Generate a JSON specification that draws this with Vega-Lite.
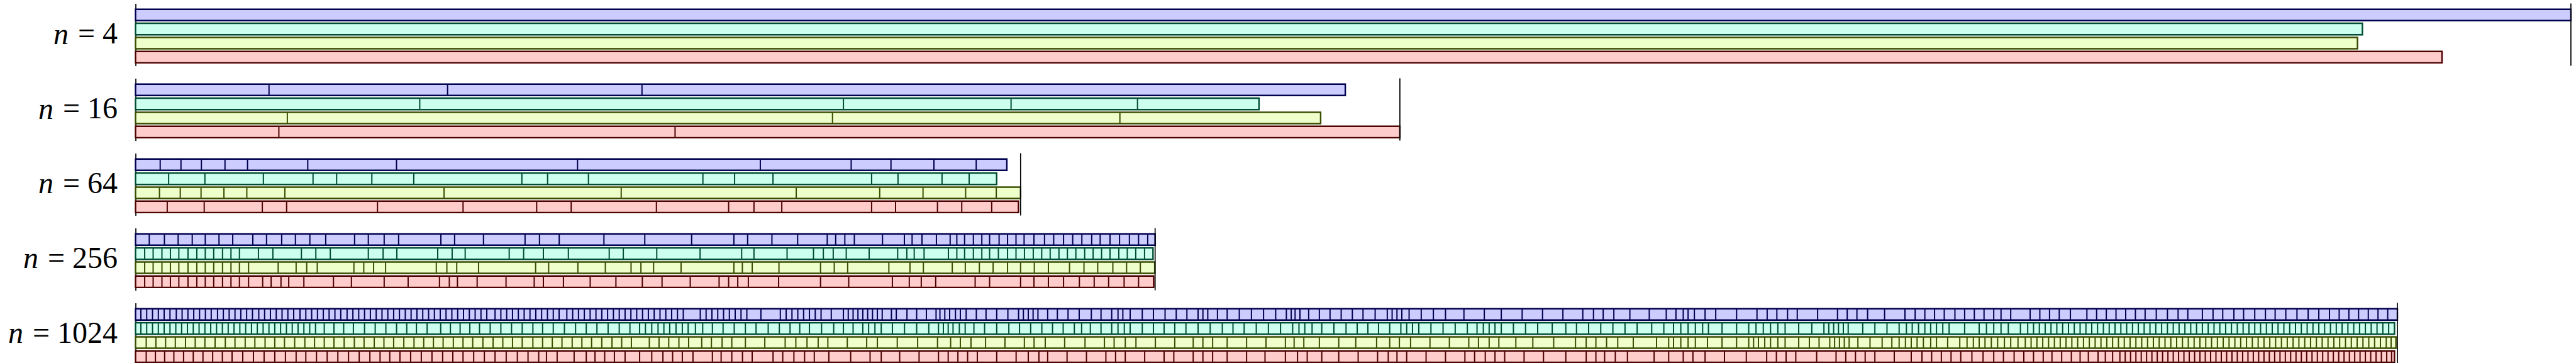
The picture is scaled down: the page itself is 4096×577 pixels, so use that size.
{
"$schema": "https://vega.github.io/schema/vega-lite/v6.json",
"background": "white",
"padding": {"left": 11.5, "top": 4.5, "right": 0, "bottom": 0},
"spacing": 18,
"resolve": {"scale": {"x": "independent", "y": "independent"}},
"config": {
 "view": {"stroke": null},
 "axisY": {"titleFont": "Liberation Serif", "titleFontStyle": "italic", "titleFontWeight": "normal", "titleFontSize": 48, "titleColor": "black", "titleAngle": 0, "titleAlign": "right", "titleBaseline": "middle", "titlePadding": 15,
  "labelFont": "Liberation Serif", "labelFontSize": 48, "labelColor": "black", "labelPadding": 29, "labelOffset": 8.6, "labelAlign": "right", "labelBaseline": "middle", "labelOverlap": false, "labelLimit": 400, "labelBound": false,
  "ticks": false, "tickSize": 0, "domain": true, "domainColor": "black", "domainWidth": 1.7, "grid": false}
},
"datasets": {
 "bars": [
  {"n":4,"s":"s1","end":6915},{"n":4,"s":"s2","end":6323},{"n":4,"s":"s3","end":6309},{"n":4,"s":"s4","end":6549},
  {"n":16,"s":"s1","end":3435},{"n":16,"s":"s2","end":3190},{"n":16,"s":"s3","end":3365},{"n":16,"s":"s4","end":3590},
  {"n":64,"s":"s1","end":2474},{"n":64,"s":"s2","end":2445},{"n":64,"s":"s3","end":2513},{"n":64,"s":"s4","end":2507},
  {"n":256,"s":"s1","end":2895},{"n":256,"s":"s2","end":2889},{"n":256,"s":"s3","end":2894},{"n":256,"s":"s4","end":2891}
 ],
 "bars1024": [
  {"n":1024,"s":"s1","end":4662},{"n":1024,"s":"s2","end":4656},{"n":1024,"s":"s3","end":4659},{"n":1024,"s":"s4","end":4656}
 ],
 "div16": [
  {"s":"s1","t":379},{"s":"s1","t":886},{"s":"s1","t":1438},
  {"s":"s2","t":807},{"s":"s2","t":2010},{"s":"s2","t":2486},{"s":"s2","t":2845},
  {"s":"s3","t":431},{"s":"s3","t":1979},{"s":"s3","t":2795},
  {"s":"s4","t":407},{"s":"s4","t":1532}
 ],
 "div64": [
  {"s":"s1","t":70},{"s":"s1","t":129},{"s":"s1","t":187},{"s":"s1","t":254},{"s":"s1","t":318},{"s":"s1","t":489},{"s":"s1","t":741},{"s":"s1","t":1255},{"s":"s1","t":1774},{"s":"s1","t":2032},{"s":"s1","t":2145},{"s":"s1","t":2267},{"s":"s1","t":2387},
  {"s":"s2","t":94},{"s":"s2","t":197},{"s":"s2","t":363},{"s":"s2","t":504},{"s":"s2","t":571},{"s":"s2","t":671},{"s":"s2","t":790},{"s":"s2","t":1097},{"s":"s2","t":1170},{"s":"s2","t":1286},{"s":"s2","t":1611},{"s":"s2","t":1701},{"s":"s2","t":1810},{"s":"s2","t":2090},{"s":"s2","t":2165},{"s":"s2","t":2290},{"s":"s2","t":2367},
  {"s":"s3","t":68},{"s":"s3","t":127},{"s":"s3","t":186},{"s":"s3","t":251},{"s":"s3","t":316},{"s":"s3","t":424},{"s":"s3","t":876},{"s":"s3","t":1379},{"s":"s3","t":1876},{"s":"s3","t":2113},{"s":"s3","t":2236},{"s":"s3","t":2357},{"s":"s3","t":2444},
  {"s":"s4","t":90},{"s":"s4","t":195},{"s":"s4","t":360},{"s":"s4","t":429},{"s":"s4","t":687},{"s":"s4","t":930},{"s":"s4","t":1139},{"s":"s4","t":1237},{"s":"s4","t":1479},{"s":"s4","t":1684},{"s":"s4","t":1756},{"s":"s4","t":1835},{"s":"s4","t":2090},{"s":"s4","t":2158},{"s":"s4","t":2277},{"s":"s4","t":2346},{"s":"s4","t":2431}
 ],
 "div256": [
  {"s":"s1","t":39},{"s":"s1","t":82},{"s":"s1","t":121},{"s":"s1","t":161},{"s":"s1","t":198},{"s":"s1","t":237},{"s":"s1","t":276},{"s":"s1","t":333},{"s":"s1","t":372},{"s":"s1","t":415},{"s":"s1","t":454},{"s":"s1","t":495},{"s":"s1","t":540},{"s":"s1","t":622},{"s":"s1","t":661},{"s":"s1","t":706},{"s":"s1","t":747},{"s":"s1","t":867},{"s":"s1","t":906},{"s":"s1","t":988},{"s":"s1","t":1106},{"s":"s1","t":1147},{"s":"s1","t":1203},{"s":"s1","t":1330},{"s":"s1","t":1446},{"s":"s1","t":1579},{"s":"s1","t":1699},{"s":"s1","t":1738},{"s":"s1","t":1807},{"s":"s1","t":1880},{"s":"s1","t":1964},{"s":"s1","t":1988},{"s":"s1","t":2014},{"s":"s1","t":2041},{"s":"s1","t":2121},{"s":"s1","t":2183},{"s":"s1","t":2205},{"s":"s1","t":2233},{"s":"s1","t":2274},{"s":"s1","t":2313},{"s":"s1","t":2332},{"s":"s1","t":2354},{"s":"s1","t":2379},{"s":"s1","t":2403},{"s":"s1","t":2425},{"s":"s1","t":2452},{"s":"s1","t":2476},{"s":"s1","t":2500},{"s":"s1","t":2523},{"s":"s1","t":2551},{"s":"s1","t":2581},{"s":"s1","t":2607},{"s":"s1","t":2635},{"s":"s1","t":2661},{"s":"s1","t":2687},{"s":"s1","t":2715},{"s":"s1","t":2739},{"s":"s1","t":2767},{"s":"s1","t":2794},{"s":"s1","t":2822},{"s":"s1","t":2848},{"s":"s1","t":2874},
  {"s":"s2","t":26},{"s":"s2","t":50},{"s":"s2","t":75},{"s":"s2","t":99},{"s":"s2","t":123},{"s":"s2","t":149},{"s":"s2","t":174},{"s":"s2","t":198},{"s":"s2","t":222},{"s":"s2","t":247},{"s":"s2","t":271},{"s":"s2","t":295},{"s":"s2","t":349},{"s":"s2","t":390},{"s":"s2","t":471},{"s":"s2","t":512},{"s":"s2","t":553},{"s":"s2","t":661},{"s":"s2","t":703},{"s":"s2","t":742},{"s":"s2","t":858},{"s":"s2","t":899},{"s":"s2","t":936},{"s":"s2","t":1061},{"s":"s2","t":1102},{"s":"s2","t":1158},{"s":"s2","t":1229},{"s":"s2","t":1345},{"s":"s2","t":1385},{"s":"s2","t":1480},{"s":"s2","t":1603},{"s":"s2","t":1721},{"s":"s2","t":1756},{"s":"s2","t":1850},{"s":"s2","t":1925},{"s":"s2","t":1953},{"s":"s2","t":1981},{"s":"s2","t":2018},{"s":"s2","t":2083},{"s":"s2","t":2164},{"s":"s2","t":2190},{"s":"s2","t":2211},{"s":"s2","t":2239},{"s":"s2","t":2308},{"s":"s2","t":2332},{"s":"s2","t":2354},{"s":"s2","t":2379},{"s":"s2","t":2403},{"s":"s2","t":2425},{"s":"s2","t":2450},{"s":"s2","t":2476},{"s":"s2","t":2500},{"s":"s2","t":2524},{"s":"s2","t":2549},{"s":"s2","t":2573},{"s":"s2","t":2597},{"s":"s2","t":2622},{"s":"s2","t":2646},{"s":"s2","t":2670},{"s":"s2","t":2695},{"s":"s2","t":2719},{"s":"s2","t":2743},{"s":"s2","t":2767},{"s":"s2","t":2792},{"s":"s2","t":2816},{"s":"s2","t":2840},{"s":"s2","t":2865},
  {"s":"s3","t":26},{"s":"s3","t":50},{"s":"s3","t":75},{"s":"s3","t":99},{"s":"s3","t":123},{"s":"s3","t":149},{"s":"s3","t":174},{"s":"s3","t":198},{"s":"s3","t":222},{"s":"s3","t":247},{"s":"s3","t":271},{"s":"s3","t":295},{"s":"s3","t":321},{"s":"s3","t":405},{"s":"s3","t":456},{"s":"s3","t":486},{"s":"s3","t":516},{"s":"s3","t":620},{"s":"s3","t":648},{"s":"s3","t":676},{"s":"s3","t":710},{"s":"s3","t":854},{"s":"s3","t":884},{"s":"s3","t":912},{"s":"s3","t":974},{"s":"s3","t":1136},{"s":"s3","t":1173},{"s":"s3","t":1256},{"s":"s3","t":1334},{"s":"s3","t":1407},{"s":"s3","t":1435},{"s":"s3","t":1471},{"s":"s3","t":1549},{"s":"s3","t":1699},{"s":"s3","t":1723},{"s":"s3","t":1751},{"s":"s3","t":1827},{"s":"s3","t":1945},{"s":"s3","t":1984},{"s":"s3","t":2022},{"s":"s3","t":2139},{"s":"s3","t":2199},{"s":"s3","t":2237},{"s":"s3","t":2319},{"s":"s3","t":2356},{"s":"s3","t":2396},{"s":"s3","t":2435},{"s":"s3","t":2476},{"s":"s3","t":2513},{"s":"s3","t":2552},{"s":"s3","t":2592},{"s":"s3","t":2652},{"s":"s3","t":2693},{"s":"s3","t":2732},{"s":"s3","t":2775},{"s":"s3","t":2814},{"s":"s3","t":2853},
  {"s":"s4","t":26},{"s":"s4","t":50},{"s":"s4","t":75},{"s":"s4","t":99},{"s":"s4","t":123},{"s":"s4","t":149},{"s":"s4","t":174},{"s":"s4","t":198},{"s":"s4","t":222},{"s":"s4","t":247},{"s":"s4","t":271},{"s":"s4","t":295},{"s":"s4","t":321},{"s":"s4","t":361},{"s":"s4","t":385},{"s":"s4","t":413},{"s":"s4","t":435},{"s":"s4","t":478},{"s":"s4","t":562},{"s":"s4","t":613},{"s":"s4","t":706},{"s":"s4","t":774},{"s":"s4","t":863},{"s":"s4","t":891},{"s":"s4","t":914},{"s":"s4","t":970},{"s":"s4","t":1052},{"s":"s4","t":1132},{"s":"s4","t":1158},{"s":"s4","t":1215},{"s":"s4","t":1291},{"s":"s4","t":1364},{"s":"s4","t":1439},{"s":"s4","t":1495},{"s":"s4","t":1575},{"s":"s4","t":1657},{"s":"s4","t":1684},{"s":"s4","t":1710},{"s":"s4","t":1740},{"s":"s4","t":1826},{"s":"s4","t":1945},{"s":"s4","t":2025},{"s":"s4","t":2149},{"s":"s4","t":2197},{"s":"s4","t":2231},{"s":"s4","t":2272},{"s":"s4","t":2384},{"s":"s4","t":2425},{"s":"s4","t":2513},{"s":"s4","t":2551},{"s":"s4","t":2592},{"s":"s4","t":2635},{"s":"s4","t":2680},{"s":"s4","t":2722},{"s":"s4","t":2763},{"s":"s4","t":2807},{"s":"s4","t":2848}
 ],
 "div1024": [
  {"s":"s1","t":11},{"s":"s1","t":23},{"s":"s1","t":35},{"s":"s1","t":47},{"s":"s1","t":59},{"s":"s1","t":71},{"s":"s1","t":84},{"s":"s1","t":96},{"s":"s1","t":108},{"s":"s1","t":120},{"s":"s1","t":132},{"s":"s1","t":144},{"s":"s1","t":156},{"s":"s1","t":169},{"s":"s1","t":181},{"s":"s1","t":193},{"s":"s1","t":205},{"s":"s1","t":217},{"s":"s1","t":229},{"s":"s1","t":241},{"s":"s1","t":254},{"s":"s1","t":266},{"s":"s1","t":278},{"s":"s1","t":290},{"s":"s1","t":302},{"s":"s1","t":314},{"s":"s1","t":326},{"s":"s1","t":339},{"s":"s1","t":351},{"s":"s1","t":363},{"s":"s1","t":375},{"s":"s1","t":387},{"s":"s1","t":399},{"s":"s1","t":411},{"s":"s1","t":423},{"s":"s1","t":436},{"s":"s1","t":448},{"s":"s1","t":460},{"s":"s1","t":472},{"s":"s1","t":484},{"s":"s1","t":496},{"s":"s1","t":508},{"s":"s1","t":520},{"s":"s1","t":532},{"s":"s1","t":544},{"s":"s1","t":556},{"s":"s1","t":568},{"s":"s1","t":580},{"s":"s1","t":592},{"s":"s1","t":604},{"s":"s1","t":616},{"s":"s1","t":628},{"s":"s1","t":640},{"s":"s1","t":652},{"s":"s1","t":664},{"s":"s1","t":676},{"s":"s1","t":688},{"s":"s1","t":700},{"s":"s1","t":712},{"s":"s1","t":724},{"s":"s1","t":741},{"s":"s1","t":753},{"s":"s1","t":765},{"s":"s1","t":777},{"s":"s1","t":789},{"s":"s1","t":801},{"s":"s1","t":813},{"s":"s1","t":825},{"s":"s1","t":837},{"s":"s1","t":849},{"s":"s1","t":861},{"s":"s1","t":873},{"s":"s1","t":889},{"s":"s1","t":901},{"s":"s1","t":913},{"s":"s1","t":925},{"s":"s1","t":937},{"s":"s1","t":949},{"s":"s1","t":961},{"s":"s1","t":973},{"s":"s1","t":985},{"s":"s1","t":997},{"s":"s1","t":1009},{"s":"s1","t":1021},{"s":"s1","t":1033},{"s":"s1","t":1045},{"s":"s1","t":1057},{"s":"s1","t":1069},{"s":"s1","t":1081},{"s":"s1","t":1093},{"s":"s1","t":1105},{"s":"s1","t":1117},{"s":"s1","t":1129},{"s":"s1","t":1164},{"s":"s1","t":1176},{"s":"s1","t":1188},{"s":"s1","t":1200},{"s":"s1","t":1212},{"s":"s1","t":1224},{"s":"s1","t":1236},{"s":"s1","t":1248},{"s":"s1","t":1260},{"s":"s1","t":1289},{"s":"s1","t":1329},{"s":"s1","t":1341},{"s":"s1","t":1353},{"s":"s1","t":1365},{"s":"s1","t":1377},{"s":"s1","t":1389},{"s":"s1","t":1401},{"s":"s1","t":1413},{"s":"s1","t":1434},{"s":"s1","t":1459},{"s":"s1","t":1469},{"s":"s1","t":1479},{"s":"s1","t":1489},{"s":"s1","t":1499},{"s":"s1","t":1509},{"s":"s1","t":1519},{"s":"s1","t":1529},{"s":"s1","t":1539},
  {"s":"s1","t":1558},{"s":"s1","t":1568},{"s":"s1","t":1590},{"s":"s1","t":1610},{"s":"s1","t":1630},{"s":"s1","t":1650},{"s":"s1","t":1658},{"s":"s1","t":1668},{"s":"s1","t":1678},{"s":"s1","t":1690},{"s":"s1","t":1700},{"s":"s1","t":1712},{"s":"s1","t":1733},{"s":"s1","t":1753},{"s":"s1","t":1775},{"s":"s1","t":1798},{"s":"s1","t":1820},{"s":"s1","t":1830},{"s":"s1","t":1840},{"s":"s1","t":1850},{"s":"s1","t":1860},{"s":"s1","t":1880},{"s":"s1","t":1900},{"s":"s1","t":1922},{"s":"s1","t":1945},{"s":"s1","t":1970},{"s":"s1","t":1990},{"s":"s1","t":2012},{"s":"s1","t":2025},{"s":"s1","t":2035},{"s":"s1","t":2050},{"s":"s1","t":2075},{"s":"s1","t":2098},{"s":"s1","t":2122},{"s":"s1","t":2145},{"s":"s1","t":2167},{"s":"s1","t":2190},{"s":"s1","t":2200},{"s":"s1","t":2210},{"s":"s1","t":2230},{"s":"s1","t":2250},{"s":"s1","t":2275},{"s":"s1","t":2300},{"s":"s1","t":2325},{"s":"s1","t":2350},{"s":"s1","t":2372},{"s":"s1","t":2382},{"s":"s1","t":2390},{"s":"s1","t":2400},{"s":"s1","t":2418},{"s":"s1","t":2440},{"s":"s1","t":2462},{"s":"s1","t":2485},{"s":"s1","t":2508},{"s":"s1","t":2530},{"s":"s1","t":2555},{"s":"s1","t":2580},{"s":"s1","t":2590},{"s":"s1","t":2600},{"s":"s1","t":2610},{"s":"s1","t":2625},{"s":"s1","t":2650},{"s":"s1","t":2675},{"s":"s1","t":2700},{"s":"s1","t":2738},{"s":"s1","t":2780},{"s":"s1","t":2815},{"s":"s1","t":2858},{"s":"s1","t":2900},{"s":"s1","t":2942},{"s":"s1","t":2983},{"s":"s1","t":3005},{"s":"s1","t":3025},{"s":"s1","t":3047},{"s":"s1","t":3080},
  {"s":"s1","t":3120},{"s":"s1","t":3155},{"s":"s1","t":3175},{"s":"s1","t":3190},{"s":"s1","t":3200},{"s":"s1","t":3213},{"s":"s1","t":3235},{"s":"s1","t":3257},{"s":"s1","t":3300},{"s":"s1","t":3342},{"s":"s1","t":3363},{"s":"s1","t":3383},{"s":"s1","t":3405},{"s":"s1","t":3425},{"s":"s1","t":3467},{"s":"s1","t":3508},{"s":"s1","t":3528},{"s":"s1","t":3548},{"s":"s1","t":3570},{"s":"s1","t":3605},{"s":"s1","t":3647},{"s":"s1","t":3668},{"s":"s1","t":3688},{"s":"s1","t":3708},{"s":"s1","t":3728},{"s":"s1","t":3750},{"s":"s1","t":3770},{"s":"s1","t":3790},{"s":"s1","t":3810},{"s":"s1","t":3830},{"s":"s1","t":3845},{"s":"s1","t":3865},{"s":"s1","t":3905},{"s":"s1","t":3925},{"s":"s1","t":3945},{"s":"s1","t":3965},{"s":"s1","t":3988},{"s":"s1","t":4022},{"s":"s1","t":4042},{"s":"s1","t":4062},{"s":"s1","t":4082},{"s":"s1","t":4102},{"s":"s1","t":4122},{"s":"s1","t":4142},{"s":"s1","t":4165},{"s":"s1","t":4188},{"s":"s1","t":4210},{"s":"s1","t":4230},{"s":"s1","t":4260},{"s":"s1","t":4282},{"s":"s1","t":4302},{"s":"s1","t":4325},{"s":"s1","t":4345},{"s":"s1","t":4368},{"s":"s1","t":4390},{"s":"s1","t":4410},{"s":"s1","t":4432},{"s":"s1","t":4455},{"s":"s1","t":4478},{"s":"s1","t":4500},{"s":"s1","t":4522},{"s":"s1","t":4542},{"s":"s1","t":4562},{"s":"s1","t":4582},{"s":"s1","t":4602},{"s":"s1","t":4622},{"s":"s1","t":4642},
  {"s":"s2","t":11},{"s":"s2","t":23},{"s":"s2","t":35},{"s":"s2","t":47},{"s":"s2","t":59},{"s":"s2","t":71},{"s":"s2","t":83},{"s":"s2","t":95},{"s":"s2","t":107},{"s":"s2","t":119},{"s":"s2","t":131},{"s":"s2","t":143},{"s":"s2","t":155},{"s":"s2","t":167},{"s":"s2","t":179},{"s":"s2","t":191},{"s":"s2","t":203},{"s":"s2","t":215},{"s":"s2","t":227},{"s":"s2","t":239},{"s":"s2","t":251},{"s":"s2","t":263},{"s":"s2","t":275},{"s":"s2","t":287},{"s":"s2","t":299},{"s":"s2","t":311},{"s":"s2","t":323},{"s":"s2","t":335},{"s":"s2","t":347},{"s":"s2","t":359},{"s":"s2","t":371},{"s":"s2","t":389},{"s":"s2","t":409},{"s":"s2","t":429},{"s":"s2","t":449},{"s":"s2","t":472},{"s":"s2","t":494},{"s":"s2","t":516},{"s":"s2","t":538},{"s":"s2","t":559},{"s":"s2","t":579},{"s":"s2","t":601},{"s":"s2","t":629},{"s":"s2","t":649},{"s":"s2","t":669},{"s":"s2","t":689},{"s":"s2","t":709},{"s":"s2","t":731},{"s":"s2","t":753},{"s":"s2","t":775},{"s":"s2","t":797},{"s":"s2","t":819},{"s":"s2","t":839},{"s":"s2","t":861},{"s":"s2","t":884},{"s":"s2","t":907},{"s":"s2","t":929},{"s":"s2","t":951},{"s":"s2","t":974},{"s":"s2","t":997},{"s":"s2","t":1019},{"s":"s2","t":1039},{"s":"s2","t":1051},{"s":"s2","t":1064},{"s":"s2","t":1077},{"s":"s2","t":1089},{"s":"s2","t":1101},{"s":"s2","t":1114},{"s":"s2","t":1127},{"s":"s2","t":1139},{"s":"s2","t":1154},{"s":"s2","t":1169},{"s":"s2","t":1189},{"s":"s2","t":1211},{"s":"s2","t":1234},{"s":"s2","t":1257},{"s":"s2","t":1279},{"s":"s2","t":1304},{"s":"s2","t":1327},{"s":"s2","t":1349},{"s":"s2","t":1369},{"s":"s2","t":1389},{"s":"s2","t":1414},{"s":"s2","t":1439},{"s":"s2","t":1459},{"s":"s2","t":1479},{"s":"s2","t":1499},{"s":"s2","t":1511},{"s":"s2","t":1524},{"s":"s2","t":1537},
  {"s":"s2","t":1560},{"s":"s2","t":1585},{"s":"s2","t":1610},{"s":"s2","t":1635},{"s":"s2","t":1655},{"s":"s2","t":1665},{"s":"s2","t":1675},{"s":"s2","t":1685},{"s":"s2","t":1698},{"s":"s2","t":1710},{"s":"s2","t":1728},{"s":"s2","t":1750},{"s":"s2","t":1775},{"s":"s2","t":1800},{"s":"s2","t":1822},{"s":"s2","t":1845},{"s":"s2","t":1868},{"s":"s2","t":1890},{"s":"s2","t":1912},{"s":"s2","t":1935},{"s":"s2","t":1950},{"s":"s2","t":1968},{"s":"s2","t":1990},{"s":"s2","t":2012},{"s":"s2","t":2025},{"s":"s2","t":2038},{"s":"s2","t":2050},{"s":"s2","t":2075},{"s":"s2","t":2098},{"s":"s2","t":2120},{"s":"s2","t":2142},{"s":"s2","t":2165},{"s":"s2","t":2190},{"s":"s2","t":2215},{"s":"s2","t":2240},{"s":"s2","t":2262},{"s":"s2","t":2285},{"s":"s2","t":2310},{"s":"s2","t":2335},{"s":"s2","t":2360},{"s":"s2","t":2385},{"s":"s2","t":2398},{"s":"s2","t":2410},{"s":"s2","t":2425},{"s":"s2","t":2445},{"s":"s2","t":2470},{"s":"s2","t":2495},{"s":"s2","t":2518},{"s":"s2","t":2540},{"s":"s2","t":2562},{"s":"s2","t":2585},{"s":"s2","t":2608},{"s":"s2","t":2620},{"s":"s2","t":2632},{"s":"s2","t":2645},{"s":"s2","t":2670},{"s":"s2","t":2695},{"s":"s2","t":2720},{"s":"s2","t":2745},{"s":"s2","t":2765},{"s":"s2","t":2778},{"s":"s2","t":2790},{"s":"s2","t":2802},{"s":"s2","t":2815},{"s":"s2","t":2840},{"s":"s2","t":2865},{"s":"s2","t":2890},{"s":"s2","t":2920},{"s":"s2","t":2948},{"s":"s2","t":2970},{"s":"s2","t":2995},{"s":"s2","t":3020},{"s":"s2","t":3045},{"s":"s2","t":3070},{"s":"s2","t":3095},
  {"s":"s2","t":3125},{"s":"s2","t":3150},{"s":"s2","t":3170},{"s":"s2","t":3185},{"s":"s2","t":3200},{"s":"s2","t":3215},{"s":"s2","t":3230},{"s":"s2","t":3242},{"s":"s2","t":3270},{"s":"s2","t":3300},{"s":"s2","t":3325},{"s":"s2","t":3340},{"s":"s2","t":3355},{"s":"s2","t":3370},{"s":"s2","t":3385},{"s":"s2","t":3400},{"s":"s2","t":3428},{"s":"s2","t":3455},{"s":"s2","t":3480},{"s":"s2","t":3490},{"s":"s2","t":3500},{"s":"s2","t":3510},{"s":"s2","t":3520},{"s":"s2","t":3530},{"s":"s2","t":3560},{"s":"s2","t":3585},{"s":"s2","t":3610},{"s":"s2","t":3635},{"s":"s2","t":3650},{"s":"s2","t":3662},{"s":"s2","t":3675},{"s":"s2","t":3688},{"s":"s2","t":3700},{"s":"s2","t":3712},{"s":"s2","t":3725},{"s":"s2","t":3738},{"s":"s2","t":3770},{"s":"s2","t":3800},{"s":"s2","t":3815},{"s":"s2","t":3830},{"s":"s2","t":3845},{"s":"s2","t":3860},{"s":"s2","t":3885},{"s":"s2","t":3900},{"s":"s2","t":3912},{"s":"s2","t":3924},{"s":"s2","t":3936},{"s":"s2","t":3948},{"s":"s2","t":3960},{"s":"s2","t":3972},{"s":"s2","t":3984},{"s":"s2","t":3996},{"s":"s2","t":4008},{"s":"s2","t":4020},{"s":"s2","t":4032},{"s":"s2","t":4044},{"s":"s2","t":4056},{"s":"s2","t":4068},{"s":"s2","t":4080},{"s":"s2","t":4092},{"s":"s2","t":4104},{"s":"s2","t":4116},{"s":"s2","t":4128},{"s":"s2","t":4140},{"s":"s2","t":4152},{"s":"s2","t":4164},{"s":"s2","t":4176},{"s":"s2","t":4188},{"s":"s2","t":4200},{"s":"s2","t":4212},{"s":"s2","t":4224},{"s":"s2","t":4236},{"s":"s2","t":4248},{"s":"s2","t":4260},{"s":"s2","t":4272},{"s":"s2","t":4284},{"s":"s2","t":4296},{"s":"s2","t":4308},{"s":"s2","t":4320},{"s":"s2","t":4332},{"s":"s2","t":4344},{"s":"s2","t":4356},{"s":"s2","t":4368},{"s":"s2","t":4380},{"s":"s2","t":4392},{"s":"s2","t":4404},{"s":"s2","t":4416},{"s":"s2","t":4428},{"s":"s2","t":4440},{"s":"s2","t":4452},{"s":"s2","t":4464},{"s":"s2","t":4476},{"s":"s2","t":4488},{"s":"s2","t":4500},{"s":"s2","t":4512},{"s":"s2","t":4524},{"s":"s2","t":4536},{"s":"s2","t":4548},{"s":"s2","t":4560},{"s":"s2","t":4572},{"s":"s2","t":4584},{"s":"s2","t":4596},{"s":"s2","t":4608},{"s":"s2","t":4620},{"s":"s2","t":4632},{"s":"s2","t":4644},
  {"s":"s3","t":22},{"s":"s3","t":42},{"s":"s3","t":62},{"s":"s3","t":82},{"s":"s3","t":103},{"s":"s3","t":123},{"s":"s3","t":143},{"s":"s3","t":164},{"s":"s3","t":185},{"s":"s3","t":205},{"s":"s3","t":226},{"s":"s3","t":246},{"s":"s3","t":267},{"s":"s3","t":287},{"s":"s3","t":307},{"s":"s3","t":328},{"s":"s3","t":349},{"s":"s3","t":369},{"s":"s3","t":389},{"s":"s3","t":409},{"s":"s3","t":430},{"s":"s3","t":451},{"s":"s3","t":471},{"s":"s3","t":492},{"s":"s3","t":512},{"s":"s3","t":532},{"s":"s3","t":553},{"s":"s3","t":574},{"s":"s3","t":594},{"s":"s3","t":614},{"s":"s3","t":634},{"s":"s3","t":655},{"s":"s3","t":675},{"s":"s3","t":695},{"s":"s3","t":716},{"s":"s3","t":737},{"s":"s3","t":757},{"s":"s3","t":777},{"s":"s3","t":797},{"s":"s3","t":819},{"s":"s3","t":839},{"s":"s3","t":859},{"s":"s3","t":879},{"s":"s3","t":900},{"s":"s3","t":920},{"s":"s3","t":940},{"s":"s3","t":961},{"s":"s3","t":982},{"s":"s3","t":1002},{"s":"s3","t":1022},{"s":"s3","t":1059},{"s":"s3","t":1079},{"s":"s3","t":1099},{"s":"s3","t":1120},{"s":"s3","t":1140},{"s":"s3","t":1167},{"s":"s3","t":1187},{"s":"s3","t":1209},{"s":"s3","t":1229},{"s":"s3","t":1257},{"s":"s3","t":1297},{"s":"s3","t":1339},{"s":"s3","t":1361},{"s":"s3","t":1384},{"s":"s3","t":1407},{"s":"s3","t":1427},{"s":"s3","t":1467},{"s":"s3","t":1507},{"s":"s3","t":1529},
  {"s":"s3","t":1570},{"s":"s3","t":1612},{"s":"s3","t":1653},{"s":"s3","t":1680},{"s":"s3","t":1700},{"s":"s3","t":1722},{"s":"s3","t":1752},{"s":"s3","t":1792},{"s":"s3","t":1832},{"s":"s3","t":1852},{"s":"s3","t":1875},{"s":"s3","t":1915},{"s":"s3","t":1957},{"s":"s3","t":1997},{"s":"s3","t":2017},{"s":"s3","t":2040},{"s":"s3","t":2062},{"s":"s3","t":2102},{"s":"s3","t":2142},{"s":"s3","t":2180},{"s":"s3","t":2200},{"s":"s3","t":2220},{"s":"s3","t":2250},{"s":"s3","t":2290},{"s":"s3","t":2330},{"s":"s3","t":2370},{"s":"s3","t":2388},{"s":"s3","t":2408},{"s":"s3","t":2440},{"s":"s3","t":2480},{"s":"s3","t":2515},{"s":"s3","t":2558},{"s":"s3","t":2585},{"s":"s3","t":2605},{"s":"s3","t":2628},{"s":"s3","t":2668},{"s":"s3","t":2708},{"s":"s3","t":2748},{"s":"s3","t":2768},{"s":"s3","t":2790},{"s":"s3","t":2810},{"s":"s3","t":2845},{"s":"s3","t":2880},{"s":"s3","t":2923},{"s":"s3","t":2968},{"s":"s3","t":2990},{"s":"s3","t":3010},{"s":"s3","t":3032},{"s":"s3","t":3055},{"s":"s3","t":3087},
  {"s":"s3","t":3135},{"s":"s3","t":3160},{"s":"s3","t":3170},{"s":"s3","t":3185},{"s":"s3","t":3200},{"s":"s3","t":3215},{"s":"s3","t":3240},{"s":"s3","t":3270},{"s":"s3","t":3300},{"s":"s3","t":3325},{"s":"s3","t":3335},{"s":"s3","t":3345},{"s":"s3","t":3358},{"s":"s3","t":3370},{"s":"s3","t":3385},{"s":"s3","t":3400},{"s":"s3","t":3428},{"s":"s3","t":3450},{"s":"s3","t":3470},{"s":"s3","t":3492},{"s":"s3","t":3502},{"s":"s3","t":3512},{"s":"s3","t":3522},{"s":"s3","t":3532},{"s":"s3","t":3550},{"s":"s3","t":3575},{"s":"s3","t":3600},{"s":"s3","t":3620},{"s":"s3","t":3635},{"s":"s3","t":3648},{"s":"s3","t":3660},{"s":"s3","t":3672},{"s":"s3","t":3685},{"s":"s3","t":3700},{"s":"s3","t":3712},{"s":"s3","t":3735},{"s":"s3","t":3760},{"s":"s3","t":3775},{"s":"s3","t":3788},{"s":"s3","t":3800},{"s":"s3","t":3812},{"s":"s3","t":3825},{"s":"s3","t":3838},{"s":"s3","t":3852},{"s":"s3","t":3865},{"s":"s3","t":3880},{"s":"s3","t":3895},{"s":"s3","t":3907},{"s":"s3","t":3919},{"s":"s3","t":3931},{"s":"s3","t":3943},{"s":"s3","t":3955},{"s":"s3","t":3967},{"s":"s3","t":3979},{"s":"s3","t":3991},{"s":"s3","t":4003},{"s":"s3","t":4015},{"s":"s3","t":4027},{"s":"s3","t":4039},{"s":"s3","t":4051},{"s":"s3","t":4063},{"s":"s3","t":4075},{"s":"s3","t":4087},{"s":"s3","t":4099},{"s":"s3","t":4111},{"s":"s3","t":4123},{"s":"s3","t":4135},{"s":"s3","t":4147},{"s":"s3","t":4159},{"s":"s3","t":4171},{"s":"s3","t":4183},{"s":"s3","t":4195},{"s":"s3","t":4207},{"s":"s3","t":4219},{"s":"s3","t":4231},{"s":"s3","t":4243},{"s":"s3","t":4255},{"s":"s3","t":4267},{"s":"s3","t":4279},{"s":"s3","t":4291},{"s":"s3","t":4303},{"s":"s3","t":4315},{"s":"s3","t":4327},{"s":"s3","t":4339},{"s":"s3","t":4351},{"s":"s3","t":4363},{"s":"s3","t":4375},{"s":"s3","t":4387},{"s":"s3","t":4399},{"s":"s3","t":4411},{"s":"s3","t":4423},{"s":"s3","t":4435},{"s":"s3","t":4447},{"s":"s3","t":4459},{"s":"s3","t":4471},{"s":"s3","t":4483},{"s":"s3","t":4495},{"s":"s3","t":4507},{"s":"s3","t":4519},{"s":"s3","t":4531},{"s":"s3","t":4543},{"s":"s3","t":4555},{"s":"s3","t":4567},{"s":"s3","t":4579},{"s":"s3","t":4591},{"s":"s3","t":4603},{"s":"s3","t":4615},{"s":"s3","t":4627},{"s":"s3","t":4639},{"s":"s3","t":4649},
  {"s":"s4","t":22},{"s":"s4","t":41},{"s":"s4","t":60},{"s":"s4","t":79},{"s":"s4","t":99},{"s":"s4","t":119},{"s":"s4","t":139},{"s":"s4","t":159},{"s":"s4","t":179},{"s":"s4","t":199},{"s":"s4","t":221},{"s":"s4","t":243},{"s":"s4","t":265},{"s":"s4","t":287},{"s":"s4","t":309},{"s":"s4","t":331},{"s":"s4","t":351},{"s":"s4","t":373},{"s":"s4","t":395},{"s":"s4","t":417},{"s":"s4","t":439},{"s":"s4","t":461},{"s":"s4","t":483},{"s":"s4","t":504},{"s":"s4","t":524},{"s":"s4","t":545},{"s":"s4","t":567},{"s":"s4","t":589},{"s":"s4","t":611},{"s":"s4","t":633},{"s":"s4","t":654},{"s":"s4","t":675},{"s":"s4","t":697},{"s":"s4","t":719},{"s":"s4","t":741},{"s":"s4","t":764},{"s":"s4","t":787},{"s":"s4","t":809},{"s":"s4","t":831},{"s":"s4","t":847},{"s":"s4","t":869},{"s":"s4","t":904},{"s":"s4","t":929},{"s":"s4","t":947},{"s":"s4","t":967},{"s":"s4","t":987},{"s":"s4","t":1009},{"s":"s4","t":1039},{"s":"s4","t":1064},{"s":"s4","t":1087},{"s":"s4","t":1107},{"s":"s4","t":1127},{"s":"s4","t":1149},{"s":"s4","t":1189},{"s":"s4","t":1207},{"s":"s4","t":1229},{"s":"s4","t":1251},{"s":"s4","t":1271},{"s":"s4","t":1314},{"s":"s4","t":1334},{"s":"s4","t":1357},{"s":"s4","t":1379},{"s":"s4","t":1399},{"s":"s4","t":1429},{"s":"s4","t":1474},{"s":"s4","t":1514},{"s":"s4","t":1537},
  {"s":"s4","t":1575},{"s":"s4","t":1615},{"s":"s4","t":1655},{"s":"s4","t":1675},{"s":"s4","t":1695},{"s":"s4","t":1715},{"s":"s4","t":1735},{"s":"s4","t":1775},{"s":"s4","t":1815},{"s":"s4","t":1840},{"s":"s4","t":1862},{"s":"s4","t":1880},{"s":"s4","t":1920},{"s":"s4","t":1960},{"s":"s4","t":2000},{"s":"s4","t":2020},{"s":"s4","t":2040},{"s":"s4","t":2080},{"s":"s4","t":2120},{"s":"s4","t":2140},{"s":"s4","t":2180},{"s":"s4","t":2200},{"s":"s4","t":2220},{"s":"s4","t":2250},{"s":"s4","t":2290},{"s":"s4","t":2328},{"s":"s4","t":2370},{"s":"s4","t":2395},{"s":"s4","t":2415},{"s":"s4","t":2445},{"s":"s4","t":2480},{"s":"s4","t":2520},{"s":"s4","t":2560},{"s":"s4","t":2582},{"s":"s4","t":2600},{"s":"s4","t":2620},{"s":"s4","t":2660},{"s":"s4","t":2700},{"s":"s4","t":2740},{"s":"s4","t":2760},{"s":"s4","t":2782},{"s":"s4","t":2802},{"s":"s4","t":2822},{"s":"s4","t":2862},{"s":"s4","t":2902},{"s":"s4","t":2948},{"s":"s4","t":2990},{"s":"s4","t":3010},{"s":"s4","t":3028},{"s":"s4","t":3050},{"s":"s4","t":3075},
  {"s":"s4","t":3130},{"s":"s4","t":3160},{"s":"s4","t":3190},{"s":"s4","t":3210},{"s":"s4","t":3235},{"s":"s4","t":3275},{"s":"s4","t":3320},{"s":"s4","t":3362},{"s":"s4","t":3382},{"s":"s4","t":3402},{"s":"s4","t":3422},{"s":"s4","t":3465},{"s":"s4","t":3505},{"s":"s4","t":3525},{"s":"s4","t":3545},{"s":"s4","t":3565},{"s":"s4","t":3585},{"s":"s4","t":3625},{"s":"s4","t":3660},{"s":"s4","t":3682},{"s":"s4","t":3702},{"s":"s4","t":3722},{"s":"s4","t":3742},{"s":"s4","t":3762},{"s":"s4","t":3785},{"s":"s4","t":3808},{"s":"s4","t":3830},{"s":"s4","t":3850},{"s":"s4","t":3872},{"s":"s4","t":3892},{"s":"s4","t":3912},{"s":"s4","t":3932},{"s":"s4","t":3950},{"s":"s4","t":3970},{"s":"s4","t":3990},{"s":"s4","t":4008},{"s":"s4","t":4025},{"s":"s4","t":4045},{"s":"s4","t":4060},{"s":"s4","t":4075},{"s":"s4","t":4090},{"s":"s4","t":4101},{"s":"s4","t":4112},{"s":"s4","t":4123},{"s":"s4","t":4134},{"s":"s4","t":4145},{"s":"s4","t":4156},{"s":"s4","t":4167},{"s":"s4","t":4178},{"s":"s4","t":4189},{"s":"s4","t":4200},{"s":"s4","t":4211},{"s":"s4","t":4222},{"s":"s4","t":4233},{"s":"s4","t":4244},{"s":"s4","t":4255},{"s":"s4","t":4266},{"s":"s4","t":4277},{"s":"s4","t":4288},{"s":"s4","t":4299},{"s":"s4","t":4310},{"s":"s4","t":4321},{"s":"s4","t":4332},{"s":"s4","t":4343},{"s":"s4","t":4354},{"s":"s4","t":4365},{"s":"s4","t":4376},{"s":"s4","t":4387},{"s":"s4","t":4398},{"s":"s4","t":4409},{"s":"s4","t":4420},{"s":"s4","t":4431},{"s":"s4","t":4442},{"s":"s4","t":4453},{"s":"s4","t":4464},{"s":"s4","t":4475},{"s":"s4","t":4486},{"s":"s4","t":4497},{"s":"s4","t":4508},{"s":"s4","t":4519},{"s":"s4","t":4530},{"s":"s4","t":4541},{"s":"s4","t":4552},{"s":"s4","t":4563},{"s":"s4","t":4574},{"s":"s4","t":4585},{"s":"s4","t":4596},{"s":"s4","t":4607},{"s":"s4","t":4618},{"s":"s4","t":4629},{"s":"s4","t":4640},{"s":"s4","t":4650}
 ]
},
"vconcat": [
 {"width": 3872.4, "height": 99,
  "layer": [
   {"data": {"name": "bars"}, "transform": [{"filter": "datum.n == 4"}],
    "mark": {"type": "bar", "strokeWidth": 2.4, "opacity": 1},
    "encoding": {
     "y": {"field": "s", "type": "nominal", "title": "n", "scale": {"paddingInner": 0.19, "paddingOuter": 0.308, "align": 0.667}, "axis": {"values": ["s2"], "labelExpr": "'= 4'"}},
     "x": {"field": "end", "type": "quantitative", "stack": null, "scale": {"domain": [0, 6915]}, "axis": null},
     "fill": {"field": "s", "type": "nominal", "scale": {"domain": ["s1","s2","s3","s4"], "range": ["#ccccff","#ccffee","#eeffcc","#ffcccc"]}, "legend": null},
     "stroke": {"field": "s", "type": "nominal", "scale": {"domain": ["s1","s2","s3","s4"], "range": ["#000050","#004d33","#3a4d00","#4d0000"]}, "legend": null}
    }},
   {"data": {"name": "bars"}, "transform": [{"filter": "datum.n == 4"}],
    "mark": {"type": "rule", "color": "black", "strokeWidth": 1.7},
    "encoding": {"x": {"aggregate": "max", "field": "end", "type": "quantitative", "scale": {"domain": [0, 6915]}, "axis": null}}}
  ]},
 {"width": 3872.4, "height": 99,
  "layer": [
   {"data": {"name": "bars"}, "transform": [{"filter": "datum.n == 16"}],
    "mark": {"type": "bar", "strokeWidth": 2.4, "opacity": 1},
    "encoding": {
     "y": {"field": "s", "type": "nominal", "title": "n", "scale": {"paddingInner": 0.19, "paddingOuter": 0.308, "align": 0.667}, "axis": {"values": ["s2"], "labelExpr": "'= 16'"}},
     "x": {"field": "end", "type": "quantitative", "stack": null, "scale": {"domain": [0, 6915]}, "axis": null},
     "fill": {"field": "s", "type": "nominal", "scale": {"domain": ["s1","s2","s3","s4"], "range": ["#ccccff","#ccffee","#eeffcc","#ffcccc"]}, "legend": null},
     "stroke": {"field": "s", "type": "nominal", "scale": {"domain": ["s1","s2","s3","s4"], "range": ["#000050","#004d33","#3a4d00","#4d0000"]}, "legend": null}
    }},
   {"data": {"name": "div16"},
    "mark": {"type": "tick", "thickness": 2, "size": 18.2, "opacity": 1},
    "encoding": {
     "y": {"field": "s", "type": "nominal", "title": "n"},
     "x": {"field": "t", "type": "quantitative", "scale": {"domain": [0, 6915]}, "axis": null},
     "color": {"field": "s", "type": "nominal", "scale": {"domain": ["s1","s2","s3","s4"], "range": ["#000050","#004d33","#3a4d00","#4d0000"]}, "legend": null}
    }},
   {"data": {"name": "bars"}, "transform": [{"filter": "datum.n == 16"}],
    "mark": {"type": "rule", "color": "black", "strokeWidth": 1.7},
    "encoding": {"x": {"aggregate": "max", "field": "end", "type": "quantitative", "scale": {"domain": [0, 6915]}, "axis": null}}}
  ]},
 {"width": 3872.4, "height": 99,
  "layer": [
   {"data": {"name": "bars"}, "transform": [{"filter": "datum.n == 64"}],
    "mark": {"type": "bar", "strokeWidth": 2.4, "opacity": 1},
    "encoding": {
     "y": {"field": "s", "type": "nominal", "title": "n", "scale": {"paddingInner": 0.19, "paddingOuter": 0.308, "align": 0.667}, "axis": {"values": ["s2"], "labelExpr": "'= 64'"}},
     "x": {"field": "end", "type": "quantitative", "stack": null, "scale": {"domain": [0, 6915]}, "axis": null},
     "fill": {"field": "s", "type": "nominal", "scale": {"domain": ["s1","s2","s3","s4"], "range": ["#ccccff","#ccffee","#eeffcc","#ffcccc"]}, "legend": null},
     "stroke": {"field": "s", "type": "nominal", "scale": {"domain": ["s1","s2","s3","s4"], "range": ["#000050","#004d33","#3a4d00","#4d0000"]}, "legend": null}
    }},
   {"data": {"name": "div64"},
    "mark": {"type": "tick", "thickness": 2, "size": 18.2, "opacity": 1},
    "encoding": {
     "y": {"field": "s", "type": "nominal", "title": "n"},
     "x": {"field": "t", "type": "quantitative", "scale": {"domain": [0, 6915]}, "axis": null},
     "color": {"field": "s", "type": "nominal", "scale": {"domain": ["s1","s2","s3","s4"], "range": ["#000050","#004d33","#3a4d00","#4d0000"]}, "legend": null}
    }},
   {"data": {"name": "bars"}, "transform": [{"filter": "datum.n == 64"}],
    "mark": {"type": "rule", "color": "black", "strokeWidth": 1.7},
    "encoding": {"x": {"aggregate": "max", "field": "end", "type": "quantitative", "scale": {"domain": [0, 6915]}, "axis": null}}}
  ]},
 {"width": 3872.4, "height": 99,
  "layer": [
   {"data": {"name": "bars"}, "transform": [{"filter": "datum.n == 256"}],
    "mark": {"type": "bar", "strokeWidth": 2.4, "opacity": 1},
    "encoding": {
     "y": {"field": "s", "type": "nominal", "title": "n", "scale": {"paddingInner": 0.19, "paddingOuter": 0.308, "align": 0.667}, "axis": {"values": ["s2"], "labelExpr": "'= 256'"}},
     "x": {"field": "end", "type": "quantitative", "stack": null, "scale": {"domain": [0, 6915]}, "axis": null},
     "fill": {"field": "s", "type": "nominal", "scale": {"domain": ["s1","s2","s3","s4"], "range": ["#ccccff","#ccffee","#eeffcc","#ffcccc"]}, "legend": null},
     "stroke": {"field": "s", "type": "nominal", "scale": {"domain": ["s1","s2","s3","s4"], "range": ["#000050","#004d33","#3a4d00","#4d0000"]}, "legend": null}
    }},
   {"data": {"name": "div256"},
    "mark": {"type": "tick", "thickness": 2, "size": 18.2, "opacity": 1},
    "encoding": {
     "y": {"field": "s", "type": "nominal", "title": "n"},
     "x": {"field": "t", "type": "quantitative", "scale": {"domain": [0, 6915]}, "axis": null},
     "color": {"field": "s", "type": "nominal", "scale": {"domain": ["s1","s2","s3","s4"], "range": ["#000050","#004d33","#3a4d00","#4d0000"]}, "legend": null}
    }},
   {"data": {"name": "bars"}, "transform": [{"filter": "datum.n == 256"}],
    "mark": {"type": "rule", "color": "black", "strokeWidth": 1.7},
    "encoding": {"x": {"aggregate": "max", "field": "end", "type": "quantitative", "scale": {"domain": [0, 6915]}, "axis": null}}}
  ]},
 {"width": 3872.4, "height": 99,
  "layer": [
   {"data": {"name": "bars1024"},
    "mark": {"type": "bar", "strokeWidth": 2.4, "opacity": 1},
    "encoding": {
     "y": {"field": "s", "type": "nominal", "title": "n", "scale": {"paddingInner": 0.19, "paddingOuter": 0.308, "align": 0.667}, "axis": {"values": ["s2"], "labelExpr": "'= 1024'"}},
     "x": {"field": "end", "type": "quantitative", "stack": null, "scale": {"domain": [0, 5019.6]}, "axis": null},
     "fill": {"field": "s", "type": "nominal", "scale": {"domain": ["s1","s2","s3","s4"], "range": ["#ccccff","#ccffee","#eeffcc","#ffcccc"]}, "legend": null},
     "stroke": {"field": "s", "type": "nominal", "scale": {"domain": ["s1","s2","s3","s4"], "range": ["#000050","#004d33","#3a4d00","#4d0000"]}, "legend": null}
    }},
   {"data": {"name": "div1024"},
    "mark": {"type": "tick", "thickness": 2, "size": 18.2, "opacity": 1},
    "encoding": {
     "y": {"field": "s", "type": "nominal", "title": "n"},
     "x": {"field": "t", "type": "quantitative", "scale": {"domain": [0, 5019.6]}, "axis": null},
     "color": {"field": "s", "type": "nominal", "scale": {"domain": ["s1","s2","s3","s4"], "range": ["#000050","#004d33","#3a4d00","#4d0000"]}, "legend": null}
    }},
   {"data": {"name": "bars1024"},
    "mark": {"type": "rule", "color": "black", "strokeWidth": 1.7},
    "encoding": {"x": {"aggregate": "max", "field": "end", "type": "quantitative", "scale": {"domain": [0, 5019.6]}, "axis": null}}}
  ]}
]
}
